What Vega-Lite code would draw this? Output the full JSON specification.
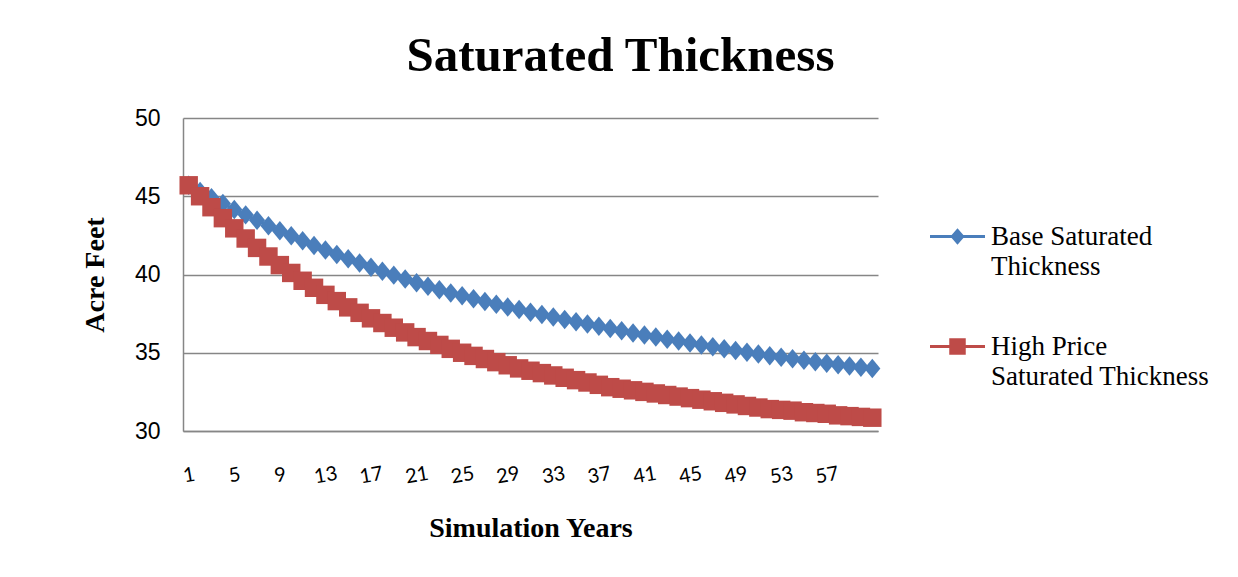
{
  "$schema": "https://vega.github.io/schema/vega-lite/v6.json",
  "width": 695,
  "height": 313,
  "autosize": {"type": "none"},
  "padding": {"left": 183, "top": 118, "right": 360, "bottom": 146},
  "background": "white",
  "title": {"text": "Saturated Thickness", "font": "Liberation Serif", "fontSize": 49, "fontWeight": "bold", "color": "black", "anchor": "middle", "frame": "group", "dx": 90, "offset": 26},
  "data": {"values": [
    {"year": 1, "series": "Base Saturated Thickness", "value": 45.70},
    {"year": 2, "series": "Base Saturated Thickness", "value": 45.30},
    {"year": 3, "series": "Base Saturated Thickness", "value": 44.91},
    {"year": 4, "series": "Base Saturated Thickness", "value": 44.53},
    {"year": 5, "series": "Base Saturated Thickness", "value": 44.16},
    {"year": 6, "series": "Base Saturated Thickness", "value": 43.81},
    {"year": 7, "series": "Base Saturated Thickness", "value": 43.46},
    {"year": 8, "series": "Base Saturated Thickness", "value": 43.12},
    {"year": 9, "series": "Base Saturated Thickness", "value": 42.79},
    {"year": 10, "series": "Base Saturated Thickness", "value": 42.47},
    {"year": 11, "series": "Base Saturated Thickness", "value": 42.16},
    {"year": 12, "series": "Base Saturated Thickness", "value": 41.86},
    {"year": 13, "series": "Base Saturated Thickness", "value": 41.56},
    {"year": 14, "series": "Base Saturated Thickness", "value": 41.28},
    {"year": 15, "series": "Base Saturated Thickness", "value": 41.00},
    {"year": 16, "series": "Base Saturated Thickness", "value": 40.73},
    {"year": 17, "series": "Base Saturated Thickness", "value": 40.46},
    {"year": 18, "series": "Base Saturated Thickness", "value": 40.21},
    {"year": 19, "series": "Base Saturated Thickness", "value": 39.96},
    {"year": 20, "series": "Base Saturated Thickness", "value": 39.72},
    {"year": 21, "series": "Base Saturated Thickness", "value": 39.48},
    {"year": 22, "series": "Base Saturated Thickness", "value": 39.25},
    {"year": 23, "series": "Base Saturated Thickness", "value": 39.03},
    {"year": 24, "series": "Base Saturated Thickness", "value": 38.82},
    {"year": 25, "series": "Base Saturated Thickness", "value": 38.64},
    {"year": 26, "series": "Base Saturated Thickness", "value": 38.45},
    {"year": 27, "series": "Base Saturated Thickness", "value": 38.27},
    {"year": 28, "series": "Base Saturated Thickness", "value": 38.10},
    {"year": 29, "series": "Base Saturated Thickness", "value": 37.92},
    {"year": 30, "series": "Base Saturated Thickness", "value": 37.76},
    {"year": 31, "series": "Base Saturated Thickness", "value": 37.59},
    {"year": 32, "series": "Base Saturated Thickness", "value": 37.44},
    {"year": 33, "series": "Base Saturated Thickness", "value": 37.28},
    {"year": 34, "series": "Base Saturated Thickness", "value": 37.13},
    {"year": 35, "series": "Base Saturated Thickness", "value": 36.98},
    {"year": 36, "series": "Base Saturated Thickness", "value": 36.83},
    {"year": 37, "series": "Base Saturated Thickness", "value": 36.69},
    {"year": 38, "series": "Base Saturated Thickness", "value": 36.55},
    {"year": 39, "series": "Base Saturated Thickness", "value": 36.40},
    {"year": 40, "series": "Base Saturated Thickness", "value": 36.26},
    {"year": 41, "series": "Base Saturated Thickness", "value": 36.13},
    {"year": 42, "series": "Base Saturated Thickness", "value": 36.00},
    {"year": 43, "series": "Base Saturated Thickness", "value": 35.87},
    {"year": 44, "series": "Base Saturated Thickness", "value": 35.75},
    {"year": 45, "series": "Base Saturated Thickness", "value": 35.63},
    {"year": 46, "series": "Base Saturated Thickness", "value": 35.50},
    {"year": 47, "series": "Base Saturated Thickness", "value": 35.38},
    {"year": 48, "series": "Base Saturated Thickness", "value": 35.26},
    {"year": 49, "series": "Base Saturated Thickness", "value": 35.14},
    {"year": 50, "series": "Base Saturated Thickness", "value": 35.03},
    {"year": 51, "series": "Base Saturated Thickness", "value": 34.92},
    {"year": 52, "series": "Base Saturated Thickness", "value": 34.81},
    {"year": 53, "series": "Base Saturated Thickness", "value": 34.71},
    {"year": 54, "series": "Base Saturated Thickness", "value": 34.61},
    {"year": 55, "series": "Base Saturated Thickness", "value": 34.52},
    {"year": 56, "series": "Base Saturated Thickness", "value": 34.42},
    {"year": 57, "series": "Base Saturated Thickness", "value": 34.33},
    {"year": 58, "series": "Base Saturated Thickness", "value": 34.24},
    {"year": 59, "series": "Base Saturated Thickness", "value": 34.16},
    {"year": 60, "series": "Base Saturated Thickness", "value": 34.08},
    {"year": 61, "series": "Base Saturated Thickness", "value": 34.00},
    {"year": 1, "series": "High Price Saturated Thickness", "value": 45.70},
    {"year": 2, "series": "High Price Saturated Thickness", "value": 45.00},
    {"year": 3, "series": "High Price Saturated Thickness", "value": 44.30},
    {"year": 4, "series": "High Price Saturated Thickness", "value": 43.60},
    {"year": 5, "series": "High Price Saturated Thickness", "value": 42.95},
    {"year": 6, "series": "High Price Saturated Thickness", "value": 42.30},
    {"year": 7, "series": "High Price Saturated Thickness", "value": 41.70},
    {"year": 8, "series": "High Price Saturated Thickness", "value": 41.15},
    {"year": 9, "series": "High Price Saturated Thickness", "value": 40.60},
    {"year": 10, "series": "High Price Saturated Thickness", "value": 40.10},
    {"year": 11, "series": "High Price Saturated Thickness", "value": 39.60},
    {"year": 12, "series": "High Price Saturated Thickness", "value": 39.15},
    {"year": 13, "series": "High Price Saturated Thickness", "value": 38.70},
    {"year": 14, "series": "High Price Saturated Thickness", "value": 38.30},
    {"year": 15, "series": "High Price Saturated Thickness", "value": 37.90},
    {"year": 16, "series": "High Price Saturated Thickness", "value": 37.55},
    {"year": 17, "series": "High Price Saturated Thickness", "value": 37.20},
    {"year": 18, "series": "High Price Saturated Thickness", "value": 36.90},
    {"year": 19, "series": "High Price Saturated Thickness", "value": 36.60},
    {"year": 20, "series": "High Price Saturated Thickness", "value": 36.30},
    {"year": 21, "series": "High Price Saturated Thickness", "value": 36.00},
    {"year": 22, "series": "High Price Saturated Thickness", "value": 35.75},
    {"year": 23, "series": "High Price Saturated Thickness", "value": 35.50},
    {"year": 24, "series": "High Price Saturated Thickness", "value": 35.25},
    {"year": 25, "series": "High Price Saturated Thickness", "value": 35.00},
    {"year": 26, "series": "High Price Saturated Thickness", "value": 34.80},
    {"year": 27, "series": "High Price Saturated Thickness", "value": 34.60},
    {"year": 28, "series": "High Price Saturated Thickness", "value": 34.40},
    {"year": 29, "series": "High Price Saturated Thickness", "value": 34.20},
    {"year": 30, "series": "High Price Saturated Thickness", "value": 34.00},
    {"year": 31, "series": "High Price Saturated Thickness", "value": 33.85},
    {"year": 32, "series": "High Price Saturated Thickness", "value": 33.70},
    {"year": 33, "series": "High Price Saturated Thickness", "value": 33.55},
    {"year": 34, "series": "High Price Saturated Thickness", "value": 33.40},
    {"year": 35, "series": "High Price Saturated Thickness", "value": 33.25},
    {"year": 36, "series": "High Price Saturated Thickness", "value": 33.10},
    {"year": 37, "series": "High Price Saturated Thickness", "value": 32.95},
    {"year": 38, "series": "High Price Saturated Thickness", "value": 32.80},
    {"year": 39, "series": "High Price Saturated Thickness", "value": 32.70},
    {"year": 40, "series": "High Price Saturated Thickness", "value": 32.60},
    {"year": 41, "series": "High Price Saturated Thickness", "value": 32.50},
    {"year": 42, "series": "High Price Saturated Thickness", "value": 32.40},
    {"year": 43, "series": "High Price Saturated Thickness", "value": 32.30},
    {"year": 44, "series": "High Price Saturated Thickness", "value": 32.20},
    {"year": 45, "series": "High Price Saturated Thickness", "value": 32.10},
    {"year": 46, "series": "High Price Saturated Thickness", "value": 32.00},
    {"year": 47, "series": "High Price Saturated Thickness", "value": 31.90},
    {"year": 48, "series": "High Price Saturated Thickness", "value": 31.80},
    {"year": 49, "series": "High Price Saturated Thickness", "value": 31.70},
    {"year": 50, "series": "High Price Saturated Thickness", "value": 31.60},
    {"year": 51, "series": "High Price Saturated Thickness", "value": 31.50},
    {"year": 52, "series": "High Price Saturated Thickness", "value": 31.40},
    {"year": 53, "series": "High Price Saturated Thickness", "value": 31.35},
    {"year": 54, "series": "High Price Saturated Thickness", "value": 31.30},
    {"year": 55, "series": "High Price Saturated Thickness", "value": 31.20},
    {"year": 56, "series": "High Price Saturated Thickness", "value": 31.15},
    {"year": 57, "series": "High Price Saturated Thickness", "value": 31.10},
    {"year": 58, "series": "High Price Saturated Thickness", "value": 31.00},
    {"year": 59, "series": "High Price Saturated Thickness", "value": 30.95},
    {"year": 60, "series": "High Price Saturated Thickness", "value": 30.90},
    {"year": 61, "series": "High Price Saturated Thickness", "value": 30.85}
  ]},
  "encoding": {
    "x": {
      "field": "year", "type": "quantitative",
      "scale": {"domain": [0.5, 61.5], "nice": false, "zero": false},
      "axis": {
        "values": [1, 5, 9, 13, 17, 21, 25, 29, 33, 37, 41, 45, 49, 53, 57],
        "format": "d", "title": "Simulation Years",
        "titleFont": "Liberation Serif", "titleFontSize": 28, "titleFontWeight": "bold", "titleColor": "black", "titlePadding": 28,
        "labelFont": "Lato", "labelFontSize": 20, "labelColor": "black", "labelAngle": -10, "labelAlign": "center", "labelBaseline": "middle",
        "labelPadding": 44, "labelFlush": false, "labelOverlap": false,
        "ticks": false, "tickSize": 0, "grid": false,
        "domainColor": "#868686", "domainWidth": 1.5
      }
    },
    "y": {
      "field": "value", "type": "quantitative",
      "scale": {"domain": [30, 50], "nice": false, "zero": false},
      "axis": {
        "values": [30, 35, 40, 45, 50], "title": "Acre Feet",
        "titleFont": "Liberation Serif", "titleFontSize": 28, "titleFontWeight": "bold", "titleColor": "black", "titlePadding": 25,
        "labelFont": "Liberation Sans", "labelFontSize": 23, "labelColor": "black", "labelPadding": 23,
        "ticks": false, "tickSize": 0, "grid": true, "gridColor": "#868686", "gridWidth": 1.5,
        "domainColor": "#868686", "domainWidth": 1.5
      }
    }
  },
  "layer": [
    {
      "mark": {"type": "point", "filled": true, "opacity": 0, "size": 3025},
      "transform": [{"filter": "datum.year === 1"}],
      "encoding": {
        "color": {
          "field": "series", "type": "nominal",
          "scale": {"domain": ["Base Saturated Thickness", "High Price Saturated Thickness"], "range": ["#4a7ebb", "#be4b48"]},
          "legend": {
            "title": null, "orient": "none", "legendX": 747, "legendY": 91, "direction": "vertical",
            "labelFont": "Liberation Serif", "labelFontSize": 27, "labelColor": "black", "labelLimit": 400, "labelOffset": 6,
            "rowPadding": 39, "symbolSize": 3025, "symbolOpacity": 1, "symbolStrokeWidth": 0,
            "labelExpr": "datum.label === 'Base Saturated Thickness' ? ['Base Saturated', 'Thickness'] : ['High Price', 'Saturated Thickness']"
          }
        },
        "shape": {
          "field": "series", "type": "nominal",
          "scale": {"domain": ["Base Saturated Thickness", "High Price Saturated Thickness"], "range": ["M-1,-0.055H1V0.055H-1Z M0,-0.3L0.26,0L0,0.3L-0.26,0Z", "M-1,-0.055H1V0.055H-1Z M-0.3,-0.3H0.3V0.3H-0.3Z"]},
          "legend": {
            "title": null, "orient": "none", "legendX": 747, "legendY": 91, "direction": "vertical",
            "labelFont": "Liberation Serif", "labelFontSize": 27, "labelColor": "black", "labelLimit": 400, "labelOffset": 6,
            "rowPadding": 39, "symbolSize": 3025, "symbolOpacity": 1, "symbolStrokeWidth": 0,
            "labelExpr": "datum.label === 'Base Saturated Thickness' ? ['Base Saturated', 'Thickness'] : ['High Price', 'Saturated Thickness']"
          }
        }
      }
    },
    {
      "mark": {"type": "line", "strokeWidth": 3},
      "encoding": {
        "stroke": {
          "field": "series", "type": "nominal",
          "scale": {"domain": ["Base Saturated Thickness", "High Price Saturated Thickness"], "range": ["#4a7ebb", "#be4b48"]},
          "legend": null
        }
      }
    },
    {
      "transform": [{"filter": "datum.series === 'Base Saturated Thickness'"}],
      "mark": {"type": "point", "filled": true, "opacity": 1, "size": 380, "shape": "M0,-1L0.83,0L0,1L-0.83,0Z", "color": "#4a7ebb"}
    },
    {
      "transform": [{"filter": "datum.series === 'High Price Saturated Thickness'"}],
      "mark": {"type": "point", "filled": true, "opacity": 1, "size": 340, "shape": "square", "color": "#be4b48"}
    }
  ],
  "config": {
    "view": {"stroke": null},
    "style": {"guide-label": {"lineHeight": 30}}
  }
}
